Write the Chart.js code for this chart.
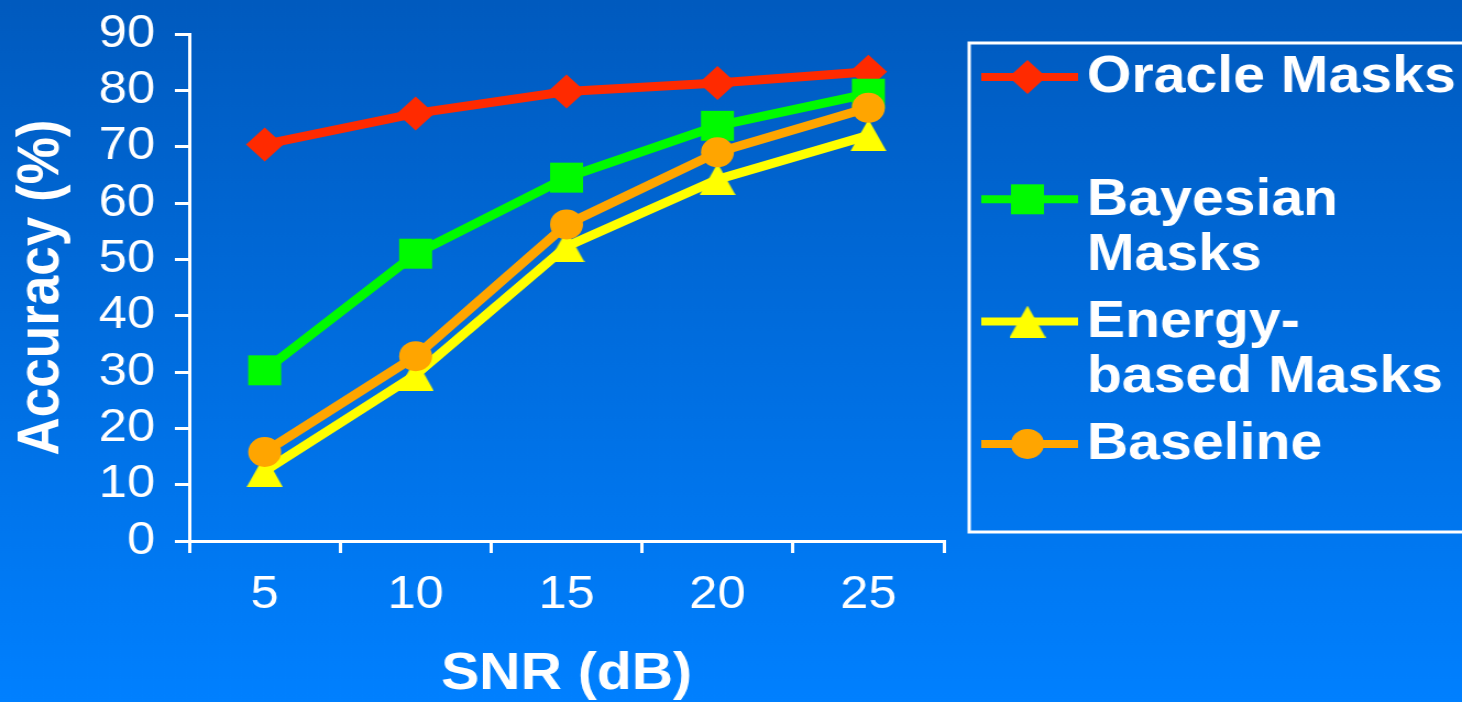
<!DOCTYPE html>
<html>
<head>
<meta charset="utf-8">
<script src="https://cdn.jsdelivr.net/npm/chart.js@4.4.1/dist/chart.umd.min.js"></script>
<style>
  html, body { margin: 0; padding: 0; overflow: hidden; background: #006ee0; }
  #chart { display: block; }
</style>
</head>
<body>
<!-- drawn at 1329 px wide and shown 10% wider, giving the slide's stretched look -->
<canvas id="chart" width="1329" height="702" style="width:1462px;height:702px;"></canvas>
<script>
// ---- data ----
const snrLabels = ['5', '10', '15', '20', '25'];
const oracleMasks = [70.4, 75.9, 79.8, 81.3, 83.3];
const bayesianMasks = [30.3, 51.0, 64.5, 73.7, 79.4];
const energyMasks = [12.4, 29.5, 52.3, 64.2, 72.0];
const baseline = [15.8, 32.8, 56.2, 69.0, 76.9];
const seriesNames = ['Oracle Masks', 'Bayesian Masks', 'Energy-based Masks', 'Baseline'];
const legendLines = [['Oracle Masks'], ['Bayesian', 'Masks'], ['Energy-', 'based Masks'], ['Baseline']];
const yMin = 0, yMax = 90, yStep = 10;
const xTitle = 'SNR (dB)';
const yTitle = 'Accuracy (%)';

const FONT = '"Liberation Sans", Arial, Helvetica, sans-serif';

// flat-based triangle marker
function triangleSprite(color, w, h) {
  const c = document.createElement('canvas');
  c.width = w; c.height = h;
  const g = c.getContext('2d');
  g.fillStyle = color;
  g.beginPath();
  g.moveTo(w / 2, 0);
  g.lineTo(w, h);
  g.lineTo(0, h);
  g.closePath();
  g.fill();
  return c;
}

const backgroundPlugin = {
  id: 'slideBackground',
  beforeDraw(chart) {
    const { ctx, width, height } = chart;
    const grad = ctx.createLinearGradient(0, 0, 0, height);
    grad.addColorStop(0, '#005abe');
    grad.addColorStop(1, '#0080ff');
    ctx.save();
    ctx.fillStyle = grad;
    ctx.fillRect(0, 0, width, height);
    ctx.restore();
  }
};

function fallbackPoint(ctx, style, r, x, y) {
  ctx.beginPath();
  if (style === 'circle') {
    ctx.arc(x, y, r, 0, Math.PI * 2);
  } else if (style === 'rect') {
    const s = r * Math.SQRT1_2;
    ctx.rect(x - s, y - s, 2 * s, 2 * s);
  } else if (style === 'rectRot') {
    ctx.moveTo(x - r, y); ctx.lineTo(x, y - r); ctx.lineTo(x + r, y); ctx.lineTo(x, y + r);
    ctx.closePath();
  } else if (style && style.width) {
    ctx.drawImage(style, x - style.width / 2, y - style.height / 2);
    return;
  }
  ctx.fill();
}

const sideLegendPlugin = {
  id: 'sideLegend',
  afterDraw(chart) {
    const ctx = chart.ctx;
    ctx.save();
    ctx.strokeStyle = '#ffffff';
    ctx.lineWidth = 3;
    ctx.strokeRect(881, 43, 520, 489);
    chart.data.datasets.forEach((ds, i) => {
      const y = 77 + i * 122.3;
      ctx.strokeStyle = ds.borderColor;
      ctx.lineWidth = 8;
      ctx.lineCap = 'butt';
      ctx.beginPath();
      ctx.moveTo(892, y);
      ctx.lineTo(980, y);
      ctx.stroke();
      ctx.fillStyle = ds.pointBackgroundColor;
      if (Chart.helpers && Chart.helpers.drawPoint) {
        Chart.helpers.drawPoint(ctx, { pointStyle: ds.pointStyle, radius: ds.pointRadius, rotation: 0, borderWidth: 0 }, 934, y);
      } else {
        fallbackPoint(ctx, ds.pointStyle, ds.pointRadius, 934, y);
      }
      ctx.fillStyle = '#ffffff';
      ctx.font = 'bold 52px ' + FONT;
      ctx.textAlign = 'left';
      ctx.textBaseline = 'middle';
      legendLines[i].forEach((t, k) => ctx.fillText(t, 988, y + 1 + k * 55));
    });
    ctx.restore();
  }
};

function series(label, data, color, style, radius, order) {
  return {
    label, data,
    borderColor: color,
    backgroundColor: color,
    pointBackgroundColor: color,
    pointBorderColor: color,
    pointBorderWidth: 0,
    pointStyle: style,
    pointRadius: radius,
    pointHoverRadius: radius,
    borderWidth: 9,
    tension: 0,
    fill: false,
    order,
    clip: false
  };
}

new Chart(document.getElementById('chart'), {
  type: 'line',
  data: {
    labels: snrLabels,
    datasets: [
      series(seriesNames[0], oracleMasks, '#ff2a00', 'rectRot', 17, 3),
      series(seriesNames[1], bayesianMasks, '#00fa00', 'rect', 21.2, 2),
      series(seriesNames[2], energyMasks, '#ffff00', triangleSprite('#ffff00', 33, 32), 16, 1),
      series(seriesNames[3], baseline, '#ffa500', 'circle', 15, 0)
    ]
  },
  options: {
    responsive: false,
    animation: false,
    devicePixelRatio: 1,
    layout: { padding: { top: 34, right: 471, bottom: 0, left: 0 } },
    plugins: {
      legend: { display: false },
      tooltip: { enabled: false }
    },
    scales: {
      x: {
        type: 'category',
        offset: true,
        grid: { drawOnChartArea: false, drawTicks: true, tickLength: 12, offset: true, color: '#ffffff', lineWidth: 3 },
        border: { display: true, color: '#ffffff', width: 3 },
        ticks: { color: '#ffffff', font: { family: FONT, size: 46 }, padding: 15, maxRotation: 0, autoSkip: false },
        title: { display: true, text: xTitle, color: '#ffffff', font: { family: FONT, size: 52, weight: 'bold', lineHeight: 1 }, padding: { top: 0, bottom: 1.5 } },
        afterFit(scale) {
          scale.height = 161;
          scale.paddingLeft = 0;
          scale.paddingRight = 0;
        }
      },
      y: {
        min: yMin,
        max: yMax,
        grid: { drawOnChartArea: false, drawTicks: true, tickLength: 13, color: '#ffffff', lineWidth: 3 },
        border: { display: true, color: '#ffffff', width: 3 },
        ticks: { stepSize: yStep, autoSkip: false, color: '#ffffff', font: { family: FONT, size: 46 }, padding: 18 },
        title: { display: true, text: yTitle, color: '#ffffff', font: { family: FONT, size: 53, weight: 'bold' }, padding: { top: 7, bottom: 0 } },
        afterFit(scale) {
          scale.width = 172;
          scale.paddingTop = 0;
          scale.paddingBottom = 0;
        }
      }
    }
  },
  plugins: [backgroundPlugin, sideLegendPlugin]
});
</script>
</body>
</html>
